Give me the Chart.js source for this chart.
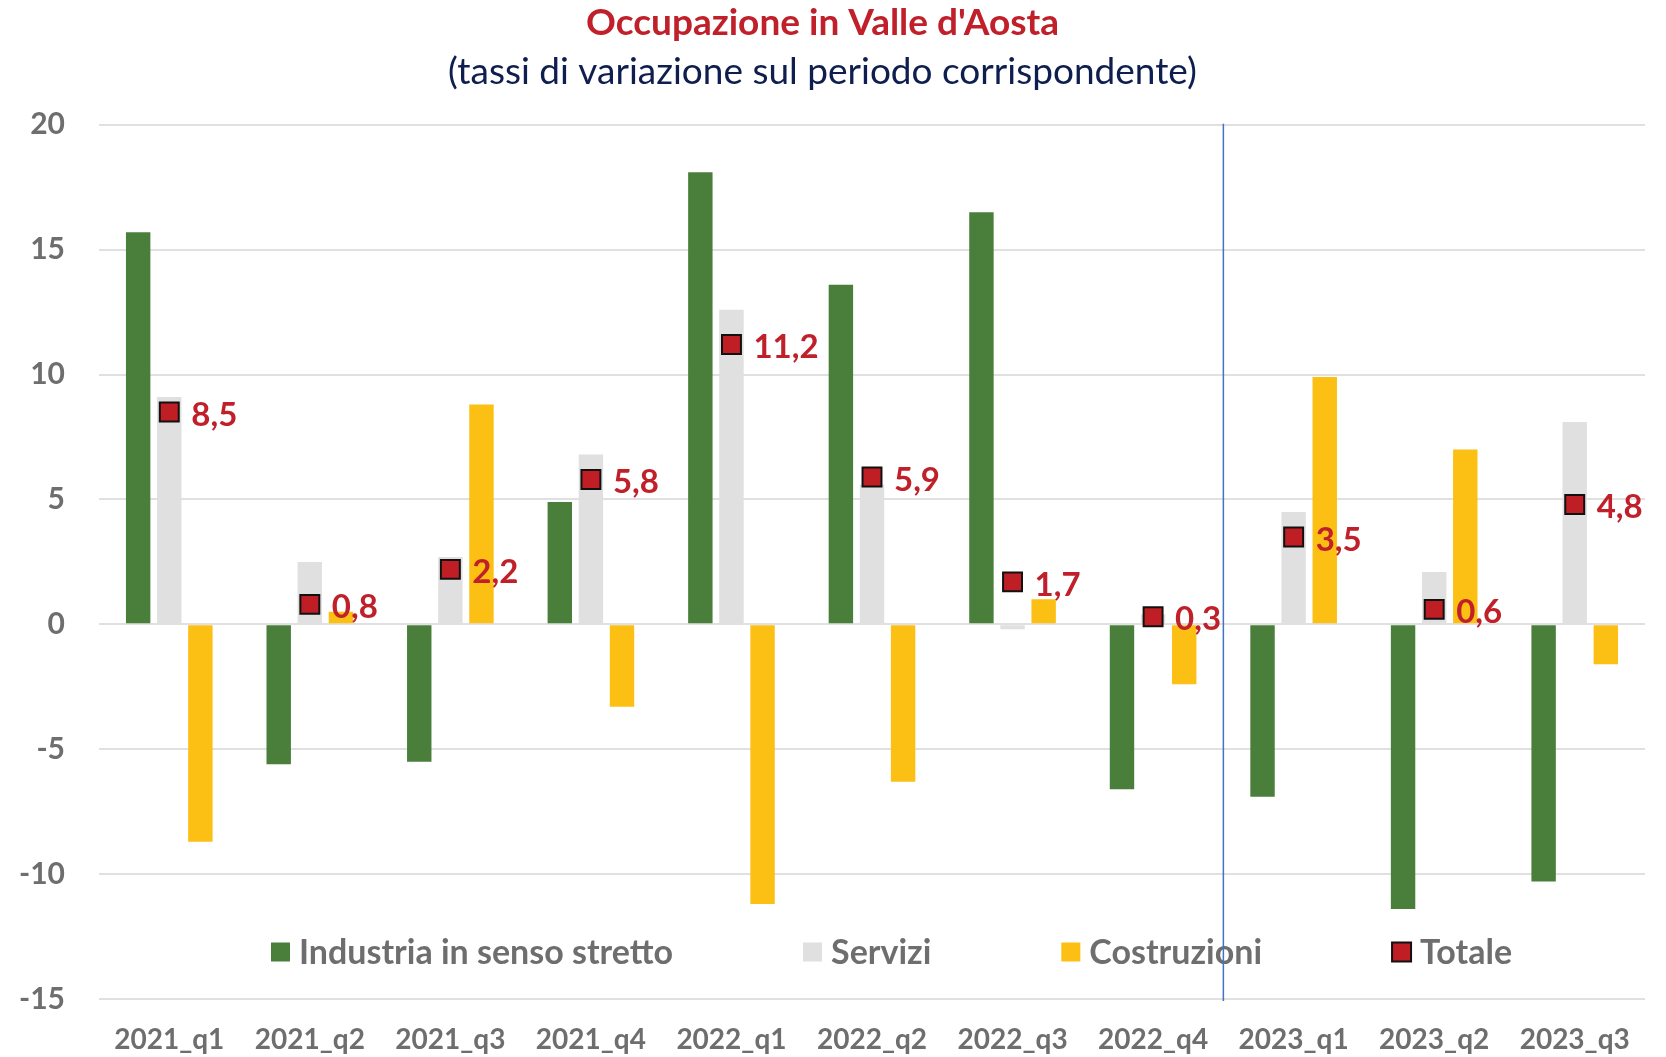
<!DOCTYPE html>
<html>
<head>
<meta charset="utf-8">
<script src="https://cdn.jsdelivr.net/npm/chart.js@4.4.0/dist/chart.umd.min.js"></script>
<style>
  html, body { margin: 0; padding: 0; background: #fff; }
  #wrap { position: relative; width: 1666px; height: 1057px; }
</style>
</head>
<body>
<div id="wrap"><canvas id="chart"></canvas></div>
<script>
// dati
const quarters = ['2021_q1', '2021_q2', '2021_q3', '2021_q4', '2022_q1', '2022_q2',
                  '2022_q3', '2022_q4', '2023_q1', '2023_q2', '2023_q3'];
const industria   = [15.7, -5.6, -5.5, 4.9, 18.1, 13.6, 16.5, -6.6, -6.9, -11.4, -10.3];
const servizi     = [9.1, 2.5, 2.7, 6.8, 12.6, 5.6, -0.2, 0.4, 4.5, 2.1, 8.1];
const costruzioni = [-8.7, 0.5, 8.8, -3.3, -11.2, -6.3, 1.0, -2.4, 9.9, 7.0, -1.6];
const totale      = [8.5, 0.8, 2.2, 5.8, 11.2, 5.9, 1.7, 0.3, 3.5, 0.6, 4.8];
const dividerAfter = '2022_q4';

const FONT = 'Lato';
const GREY_TEXT = '#6e6e6e';
const RED = '#c0202a';

const fmt = v => v.toFixed(1).replace('.', ',');

// etichette del totale a destra del marker
const totalLabels = {
    id: 'totalLabels',
    afterDatasetsDraw(chart) {
        const idx = chart.data.datasets.findIndex(d => d.type === 'line');
        const meta = chart.getDatasetMeta(idx);
        const ctx = chart.ctx;
        ctx.save();
        ctx.font = `bold 33px ${FONT}`;
        ctx.fillStyle = RED;
        ctx.textAlign = 'left';
        ctx.textBaseline = 'middle';
        meta.data.forEach((pt, i) => {
            ctx.fillText(fmt(totale[i]), pt.x + 22, pt.y + 3);
        });
        ctx.restore();
    }
};

// legenda dentro l'area del grafico, in basso
const bottomLegend = {
    id: 'bottomLegend',
    afterDatasetsDraw(chart) {
        const { ctx, chartArea } = chart;
        const box = 19;
        let x = chartArea.left + 172;
        const y = chartArea.bottom - 47;
        ctx.save();
        ctx.font = `bold 34px ${FONT}`;
        ctx.textBaseline = 'middle';
        ctx.textAlign = 'left';
        chart.data.datasets.forEach(ds => {
            if (ds.type === 'line') {
                ctx.fillStyle = ds.pointBackgroundColor;
                ctx.fillRect(x, y - box / 2, box, box);
                ctx.strokeStyle = ds.pointBorderColor;
                ctx.lineWidth = 2;
                ctx.strokeRect(x, y - box / 2, box, box);
            } else {
                ctx.fillStyle = ds.backgroundColor;
                ctx.fillRect(x, y - box / 2, box, box);
            }
            ctx.fillStyle = GREY_TEXT;
            ctx.fillText(ds.label, x + box + 9, y + 1);
            x += box + 9 + ctx.measureText(ds.label).width + 130;
        });
        ctx.restore();
    }
};

// linea verticale tra 2022 e 2023
const divider = {
    id: 'divider',
    afterDraw(chart) {
        const xs = chart.scales.x;
        const i = quarters.indexOf(dividerAfter);
        const x = (xs.getPixelForValue(i) + xs.getPixelForValue(i + 1)) / 2;
        const ctx = chart.ctx;
        ctx.save();
        ctx.strokeStyle = '#4472c4';
        ctx.lineWidth = 1.5;
        ctx.beginPath();
        ctx.moveTo(x, chart.chartArea.top - 1);
        ctx.lineTo(x, chart.chartArea.bottom + 2);
        ctx.stroke();
        ctx.restore();
    }
};

const barOpts = { categoryPercentage: 0.664, barPercentage: 0.785, order: 1 };

new Chart(document.getElementById('chart'), {
    type: 'bar',
    data: {
        labels: quarters,
        datasets: [
            { label: 'Industria in senso stretto', data: industria, backgroundColor: '#4a7e3b', ...barOpts },
            { label: 'Servizi', data: servizi, backgroundColor: '#e0e0e0', ...barOpts },
            { label: 'Costruzioni', data: costruzioni, backgroundColor: '#fcbf13', ...barOpts },
            {
                type: 'line',
                label: 'Totale',
                data: totale,
                showLine: false,
                pointStyle: 'rect',
                pointRadius: 13.4,
                pointBackgroundColor: '#be1e24',
                pointBorderColor: '#111111',
                pointBorderWidth: 2,
                order: 0
            }
        ]
    },
    options: {
        responsive: true,
        maintainAspectRatio: false,
        animation: false,
        layout: { padding: { left: 0, right: 21, top: 0, bottom: 0 } },
        plugins: {
            legend: { display: false },
            tooltip: { enabled: false },
            title: {
                display: true,
                text: "Occupazione in Valle d'Aosta",
                color: RED,
                font: { family: FONT, size: 37, weight: 'bold' },
                padding: { top: 1, bottom: 4 }
            },
            subtitle: {
                display: true,
                text: '(tassi di variazione sul periodo corrispondente)',
                color: '#0e1e4e',
                font: { family: FONT, size: 37, weight: 'normal' },
                padding: { top: 0, bottom: 31 }
            }
        },
        scales: {
            x: {
                grid: { display: false },
                border: { display: false },
                ticks: {
                    color: GREY_TEXT,
                    font: { family: FONT, size: 28, weight: 'bold' },
                    padding: 16,
                    maxRotation: 0
                },
                afterFit: s => { s.height = 58; }
            },
            y: {
                min: -15,
                max: 20,
                grid: { color: '#e0e0e0', lineWidth: 2, drawTicks: false },
                border: { display: false },
                ticks: {
                    stepSize: 5,
                    color: GREY_TEXT,
                    font: { family: FONT, size: 30, weight: 'bold' },
                    padding: 34
                },
                afterFit: s => { s.width = 99; }
            }
        }
    },
    plugins: [totalLabels, bottomLegend, divider]
});
</script>
</body>
</html>
